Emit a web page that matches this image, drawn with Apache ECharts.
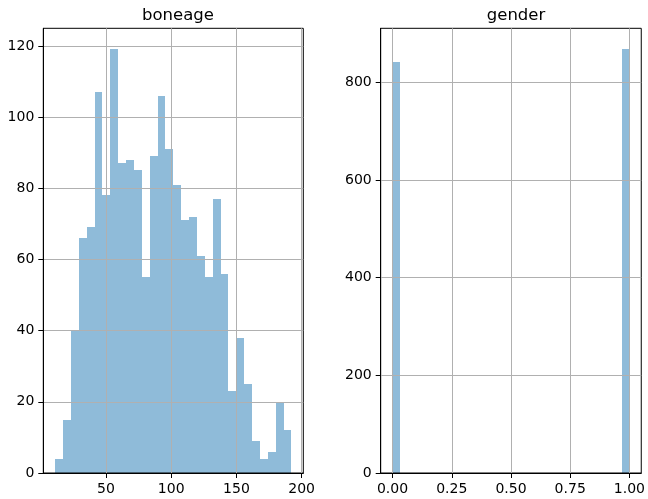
<!DOCTYPE html>
<html>
<head>
<meta charset="utf-8">
<script src="https://cdn.jsdelivr.net/npm/echarts@6/dist/echarts.min.js"></script>
<style>
html,body{margin:0;padding:0;background:#fff;}
#chart{width:648px;height:499px;}
</style>
</head>
<body>
<div id="chart"></div>
<script>
// ---- data ----
const titles = ['boneage', 'gender'];
const boneageMin = 11;
const boneageMax = 192.2;
const boneageCounts = [4, 15, 40, 66, 69, 107, 78, 119, 87, 88, 85, 55, 89, 106, 91,
                       81, 71, 72, 61, 55, 77, 56, 23, 38, 25, 9, 4, 6, 20, 12];
const genderMin = 0;
const genderMax = 1;
const genderCounts = [842, 0, 0, 0, 0, 0, 0, 0, 0, 0, 0, 0, 0, 0, 0,
                      0, 0, 0, 0, 0, 0, 0, 0, 0, 0, 0, 0, 0, 0, 867];
const boneageXTicks = [50, 100, 150, 200];
const boneageYTicks = [0, 20, 40, 60, 80, 100, 120];
const genderXTicks = [0, 0.25, 0.5, 0.75, 1.0];
const genderYTicks = [0, 200, 400, 600, 800];

function binData(lo, hi, counts) {
  const n = counts.length, w = (hi - lo) / n;
  return counts.map((c, i) => [lo + i * w, lo + (i + 1) * w, c]);
}
function padRange(lo, hi) { const m = (hi - lo) * 0.05; return [lo - m, hi + m]; }

const FONT = 'DejaVu Sans';
const barColor = '#8fbbd9';

function renderHist(params, api) {
  if (api.value(2) <= 0) return null;
  const p0 = api.coord([api.value(0), api.value(2)]);
  const p1 = api.coord([api.value(1), 0]);
  const x0 = Math.round(p0[0]), x1 = Math.round(p1[0]);
  const y0 = Math.round(p0[1]), y1 = Math.round(p1[1]);
  return {
    type: 'rect',
    shape: { x: x0, y: y0, width: x1 - x0, height: y1 - y0 },
    style: { fill: barColor }
  };
}

function xAxisCfg(idx, range, ticks, fmt) {
  return {
    type: 'value', gridIndex: idx, min: range[0], max: range[1],
    axisLine: { show: true, onZero: false, lineStyle: { color: '#000', width: 1 } },
    axisTick: { show: true, inside: false, length: 5, lineStyle: { color: '#000', width: 1 }, customValues: ticks },
    axisLabel: { show: true, margin: 9, color: '#000', fontFamily: FONT, fontSize: 14, customValues: ticks, formatter: fmt },
    splitLine: { show: true, lineStyle: { color: '#b0b0b0', width: 1 } }
  };
}
function yAxisCfg(idx, max, ticks) {
  return {
    type: 'value', gridIndex: idx, min: 0, max: max,
    axisLine: { show: true, onZero: false, lineStyle: { color: '#000', width: 1 } },
    axisTick: { show: true, inside: false, length: 5, lineStyle: { color: '#000', width: 1 }, customValues: ticks },
    axisLabel: { show: true, margin: 9, color: '#000', fontFamily: FONT, fontSize: 14, customValues: ticks },
    splitLine: { show: true, lineStyle: { color: '#b0b0b0', width: 1 } }
  };
}

const boneX = padRange(boneageMin, boneageMax);
const genX = padRange(genderMin, genderMax);
const boneYMax = Math.max(...boneageCounts) * 1.05;
const genYMax = Math.max(...genderCounts) * 1.05;

const chart = echarts.init(document.getElementById('chart'), null, { renderer: 'canvas' });
chart.setOption({
  animation: false,
  backgroundColor: '#fff',
  title: [
    { text: titles[0], left: 173, top: 2, textAlign: 'center',
      textStyle: { fontFamily: FONT, fontSize: 16.5, fontWeight: 'normal', color: '#000' } },
    { text: titles[1], left: 511, top: 2, textAlign: 'center',
      textStyle: { fontFamily: FONT, fontSize: 16.5, fontWeight: 'normal', color: '#000' } }
  ],
  grid: [
    { left: 43.3, top: 28.3, width: 260, height: 444.7, show: true, borderColor: '#000', borderWidth: 1, backgroundColor: 'transparent' },
    { left: 380.7, top: 28.3, width: 260.6, height: 444.7, show: true, borderColor: '#000', borderWidth: 1, backgroundColor: 'transparent' }
  ],
  xAxis: [
    xAxisCfg(0, boneX, boneageXTicks, v => String(v)),
    xAxisCfg(1, genX, genderXTicks, v => Number(v).toFixed(2))
  ],
  yAxis: [
    yAxisCfg(0, boneYMax, boneageYTicks),
    yAxisCfg(1, genYMax, genderYTicks)
  ],
  series: [
    { type: 'custom', z: -1, xAxisIndex: 0, yAxisIndex: 0, renderItem: renderHist,
      encode: { x: [0, 1], y: 2 }, data: binData(boneageMin, boneageMax, boneageCounts) },
    { type: 'custom', z: -1, xAxisIndex: 1, yAxisIndex: 1, renderItem: renderHist,
      encode: { x: [0, 1], y: 2 }, data: binData(genderMin, genderMax, genderCounts) }
  ]
});
</script>
</body>
</html>
